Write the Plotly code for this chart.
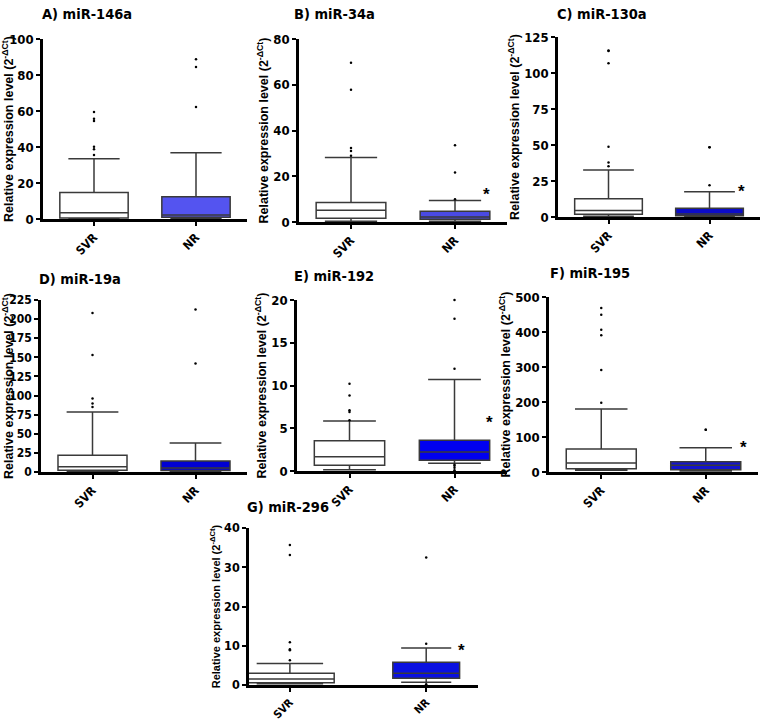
import plotly.graph_objects as go

titles = ["A) miR-146a", "B) miR-34a", "C) miR-130a", "D) miR-19a", "E) miR-192", "F) miR-195", "G) miR-296"]
groups = ["SVR", "NR"]

svr_q1 = [0.5, 1.6, 1.9, 2.2, 0.66, 9.5, 0.6]
svr_median = [3.5, 5.1, 4.6, 7.0, 1.68, 25.7, 1.53]
svr_q3 = [14.7, 8.5, 12.7, 21.8, 3.55, 65.7, 3.0]
svr_low = [0.2, 0.3, 0.5, 0.5, 0.16, 4.8, 0.3]
svr_high = [33.5, 28.2, 32.6, 78.6, 5.86, 180, 5.5]
svr_outliers = [
    [59.4, 55.7, 54.4, 40.2, 38.7, 35.6],
    [69.6, 57.8, 32.4, 31.0, 29.0],
    [115.7, 115.2, 106.7, 48.7, 37.9, 35.3],
    [208, 153, 96, 89.5, 85],
    [10.2, 8.83, 7.1, 6.9, 5.95],
    [468.6, 449.5, 406.7, 390.5, 291.4, 198],
    [35.7, 33.1, 10.9, 9.1, 8.85, 6.3],
]

nr_q1 = [1.0, 1.2, 0.8, 2.0, 1.25, 6.7, 1.7]
nr_median = [2.2, 2.2, 2.0, 5.2, 2.23, 19, 3.0]
nr_q3 = [12.4, 4.7, 6.0, 14.4, 3.6, 29.5, 5.8]
nr_low = [0.3, 0.3, 0.3, 0.5, 0.9, 3, 0.7]
nr_high = [36.8, 9.4, 17.5, 38, 10.7, 69.5, 9.4]
nr_outliers = [
    [88.7, 84.4, 62.2],
    [33.6, 21.6, 10.0],
    [48.5, 48.5, 22.0],
    [212.7, 142],
    [20.0, 17.8, 11.95, 0.74, 0.6, 0.39, 0.1],
    [121, 121],
    [32.5, 10.5, 0.2],
]

y_max = [100, 80, 125, 225, 20, 500, 40]
y_dtick = [20, 20, 25, 25, 5, 100, 10]
star_y = [None, 12, 18, None, 5.7, 70, 8.7]

# layout (pixels): x0, x1, ytop, ybottom
W, H = 768, 720
boxes_px = [
    (43, 247, 39, 219),
    (299, 507, 39, 222),
    (558, 760, 37, 217),
    (41, 247, 300, 472),
    (297, 507, 300, 471),
    (549, 758, 297, 472),
    (249, 478, 528, 685),
]
title_px = [(40, 14), (292, 14), (555, 14), (37, 279), (292, 276), (548, 273), (245, 507)]
nr_colors = ["#5454f0", "#4a4ae4", "#0c0cc8", "#0000d4", "#0000f0", "#1414cc", "#0a10e0"]
x_ranges = [[-0.5, 1.5]] * 6 + [[-0.3, 1.38]]
star_x = [None, 1.30, 1.32, None, 1.33, 1.36, 1.26]
ytick_sizes = [13, 13, 13, 12, 13, 13, 12.5]

FONT = "DejaVu Sans Condensed, Liberation Sans Narrow, Arial Narrow, sans-serif"
TFONT = "Liberation Sans, Arial, sans-serif"

fig = go.Figure()
layout = dict(
    width=W, height=H, margin=dict(l=0, r=0, t=0, b=0, autoexpand=False),
    paper_bgcolor="white", plot_bgcolor="white",
    showlegend=False, boxmode="overlay",
    font=dict(family=FONT, color="black"),
)
annotations = []

for i in range(7):
    n = "" if i == 0 else str(i + 1)
    xa, ya = "x" + n, "y" + n
    x0, x1, yt, yb = boxes_px[i]
    w_svr = 0.65 if i == 6 else 0.67
    w_nr = 0.49 if i == 6 else 0.67
    fig.add_trace(go.Box(
        x=[groups[0]], q1=[svr_q1[i]], median=[svr_median[i]], q3=[svr_q3[i]],
        lowerfence=[svr_low[i]], upperfence=[svr_high[i]],
        fillcolor="white", line=dict(color="#3a3a3a", width=1.5),
        whiskerwidth=0.75, width=w_svr, boxpoints=False,
        xaxis=xa, yaxis=ya, hoverinfo="skip"))
    fig.add_trace(go.Box(
        x=[groups[1]], q1=[nr_q1[i]], median=[nr_median[i]], q3=[nr_q3[i]],
        lowerfence=[nr_low[i]], upperfence=[nr_high[i]],
        fillcolor=nr_colors[i], line=dict(color="#3a3a3a", width=1.5),
        whiskerwidth=0.75, width=w_nr, boxpoints=False,
        xaxis=xa, yaxis=ya, hoverinfo="skip"))
    xs = [groups[0]] * len(svr_outliers[i]) + [groups[1]] * len(nr_outliers[i])
    ys = svr_outliers[i] + nr_outliers[i]
    fig.add_trace(go.Scatter(
        x=xs, y=ys, mode="markers", marker=dict(color="black", size=2.5),
        xaxis=xa, yaxis=ya, cliponaxis=False, hoverinfo="skip"))

    layout["xaxis" + n] = dict(
        domain=[x0 / W, x1 / W], anchor=ya, type="category", automargin=False,
        categoryorder="array", categoryarray=groups, range=x_ranges[i],
        showline=True, linecolor="black", linewidth=2.5,
        ticks="outside", ticklen=4, tickwidth=1.5, tickcolor="black",
        tickangle=-45, showgrid=False, zeroline=False,
        tickfont=dict(size=12 if i != 6 else 11, family=FONT, weight="bold"),
    )
    layout["yaxis" + n] = dict(
        domain=[1 - yb / H, 1 - yt / H], anchor=xa, automargin=False,
        range=[0, y_max[i]], dtick=y_dtick[i], tick0=0,
        showline=True, linecolor="black", linewidth=2.5,
        ticks="outside", ticklen=4, tickwidth=2, tickcolor="black",
        showgrid=False, zeroline=False,
        tickfont=dict(size=ytick_sizes[i], family=FONT, weight="bold"),
        title=dict(text="Relative expression level (2<sup>-ΔCt</sup>)",
                   font=dict(size=12.5 if i != 6 else 11,
                             family=TFONT, weight="bold"),
                   standoff=2),
    )
    tx, ty = title_px[i]
    annotations.append(dict(
        text=titles[i], xref="paper", yref="paper", x=tx / W, y=1 - ty / H,
        xanchor="left", yanchor="middle", showarrow=False,
        font=dict(size=14.5, family=FONT, weight="bold")))
    if star_y[i] is not None:
        annotations.append(dict(
            text="*", xref=xa, yref=ya, x=star_x[i], y=star_y[i],
            xanchor="center", yanchor="middle", showarrow=False,
            font=dict(size=17, family=TFONT, weight="bold")))

layout["annotations"] = annotations
fig.update_layout(**layout)
fig.write_html("out.html", config={"displayModeBar": False},
               post_script="document.body.style.margin='0';")
